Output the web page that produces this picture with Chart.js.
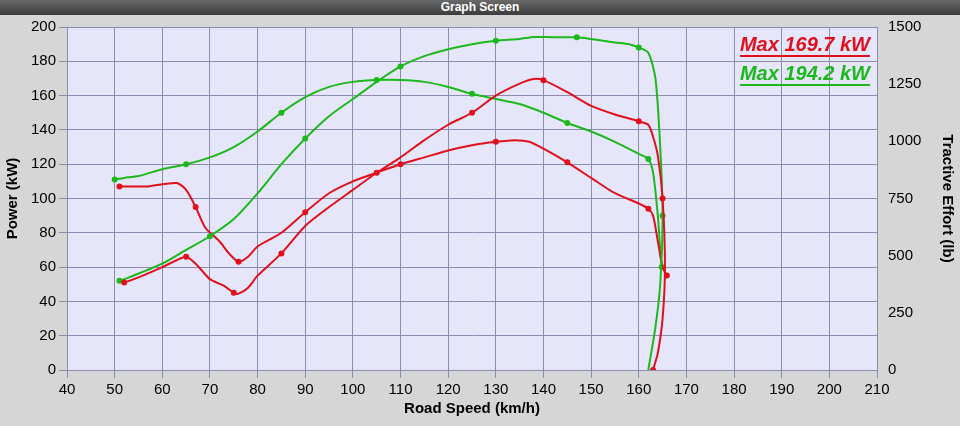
<!DOCTYPE html>
<html><head><meta charset="utf-8">
<script src="https://cdn.jsdelivr.net/npm/chart.js@4"></script>
<style>
body{margin:0;width:960px;height:426px;background:#d6d6d6;overflow:hidden;font-family:"Liberation Sans",Arial,sans-serif}
#bar{position:absolute;left:0;top:0;width:960px;height:15px;background:linear-gradient(#6a6a6a,#3c3c3c);color:#fff;font-size:12px;font-weight:bold;text-align:center;line-height:15px}
#wrap{position:absolute;left:0;top:15px;width:960px;height:411px}
.lg{position:absolute;right:90px;font:italic bold 20px "Liberation Sans",Arial;text-decoration:underline;text-underline-offset:4px}
</style></head><body>
<div id="bar">Graph Screen</div>
<div id="wrap"><canvas id="c"></canvas></div>
<div class="lg" style="top:33px;color:#e0101c">Max 169.7 kW</div>
<div class="lg" style="top:62px;color:#1cb81c">Max 194.2 kW</div>
<script>
const greenPowerX=[51,53,60,65,70,75,80,85,90,95,100,105,110,115,120,125,130,135,138,142,147,150,155,158,160,162,163.5,164.5,165,164.5,163.5,162];
const greenPowerY=[52,54,62,70,78,88,103,120,135,148,158,168,177,183,187,190,192,193,194.2,194,194,193,191,190,188,185,170,130,90,50,25,0];
const redPowerX=[52,55,60,63,65,67,70,73,75,76,78,80,85,90,95,100,105,110,115,120,125,130,135,138,140,145,150,155,160,162,163,164,165,165.5,165,164,163];
const redPowerY=[51,54,60,64,66,62,53,49,45,44.5,48,55,68,84,95,105,115,124,134,143,150,160,167,169.7,169,162,154,149,145,143,136,125,100,60,30,10,0];
const redEffortX=[51,57,63,65,67,69,72,74,76,78,80,85,90,95,100,105,110,115,120,125,130,134,137,140,145,150,155,160,162,163,164,165,165.9];
const redEffortY=[803,803,818,788,713,623,563,510,473,495,540,600,690,773,825,863,900,930,960,983,998,1005,998,968,908,840,773,728,705,675,563,450,413];
const greenEffortX=[50,52,55,60,65,70,75,80,85,90,95,100,105,110,115,120,125,130,135,140,145,150,155,160,162,163,164,164.5,164.8];
const greenEffortY=[833,840,848,878,900,930,975,1043,1125,1193,1238,1260,1268,1268,1260,1238,1208,1185,1163,1125,1080,1043,998,945,923,863,675,525,450];
const xTicks=[40,210,10];
const pts=(xs,ys)=>xs.map((x,i)=>({x,y:ys[i]}));
const RED='#e0101c',GREEN='#1cb81c';
const ds=(xs,ys,c,ax)=>({data:pts(xs,ys),borderColor:c,backgroundColor:c,borderWidth:2,showLine:true,tension:0.25,yAxisID:ax,
 pointRadius:ctx=>ctx.dataIndex%4===0?2:0,fill:false});
const bg={id:'bg',beforeDraw(ch){const a=ch.chartArea,g=ch.ctx;g.save();g.fillStyle='#e6e6fa';g.fillRect(a.left,a.top,a.right-a.left,a.bottom-a.top);g.restore();}};
const tf={family:'"Liberation Sans",Arial',size:15};
new Chart(document.getElementById('c'),{type:'scatter',
 data:{datasets:[ds(redPowerX,redPowerY,RED,'y'),ds(greenPowerX,greenPowerY,GREEN,'y'),ds(redEffortX,redEffortY,RED,'y2'),ds(greenEffortX,greenEffortY,GREEN,'y2')]},
 options:{responsive:true,maintainAspectRatio:false,animation:false,layout:{padding:{top:12,right:0,left:0,bottom:4}},
  plugins:{legend:{display:false},tooltip:{enabled:false}},
  scales:{
   x:{type:'linear',min:xTicks[0],max:xTicks[1],ticks:{stepSize:xTicks[2],color:'#000',font:tf},grid:{color:'#8c8cb0'},border:{color:'#8c8cb0'},
     title:{display:true,text:'Road Speed (km/h)',color:'#000',font:{...tf,weight:'bold'}},afterFit(s){s.height=52;}},
   y:{min:0,max:200,ticks:{stepSize:20,color:'#000',font:tf},grid:{color:'#8c8cb0'},border:{color:'#8c8cb0'},
     title:{display:true,text:'Power (kW)',color:'#000',font:{...tf,weight:'bold'}},afterFit(s){s.width=67;}},
   y2:{position:'right',min:0,max:1500,ticks:{stepSize:250,color:'#000',font:tf,callback:v=>String(v)},grid:{display:false},border:{color:'#8c8cb0'},
     title:{display:true,text:'Tractive Effort (lb)',color:'#000',font:{...tf,weight:'bold'}},afterFit(s){s.width=83;}}
  }},plugins:[bg]});
</script></body></html>
